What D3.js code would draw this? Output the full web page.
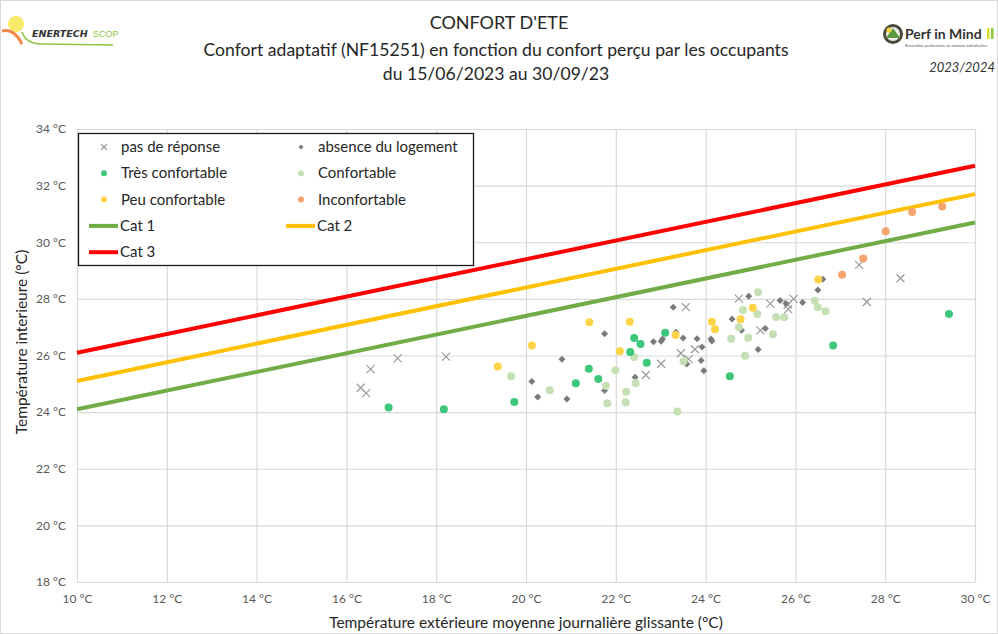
<!DOCTYPE html>
<html>
<head>
<meta charset="utf-8">
<script src="https://cdnjs.cloudflare.com/ajax/libs/d3/7.8.5/d3.min.js"></script>
<style>
  body { margin: 0; background: #fff; }
  svg { display: block; font-family: Lato, "Open Sans", sans-serif; }
</style>
</head>
<body>
<div id="chart"></div>
<script>
// points [Text, Tint]
var pasReponse = [[16.32,24.86],[16.44,24.67],[16.54,25.52],[17.14,25.90],[18.22,25.96],[23.56,27.71],[23.45,26.08],[23.76,26.22],[23.62,25.87],[23.01,25.71],[22.67,25.31],[24.74,28.01],[25.44,27.83],[25.83,27.80],[25.84,27.64],[25.96,28.00],[25.22,26.89],[27.42,29.20],[28.34,28.73],[27.59,27.89]];
var absence = [[20.13,25.08],[20.26,24.53],[20.80,25.87],[20.91,24.46],[21.75,26.77],[21.75,24.76],[22.43,25.23],[23.28,27.70],[23.34,26.82],[22.84,26.49],[23.01,26.50],[23.04,26.58],[23.50,26.62],[23.81,26.59],[23.92,26.30],[24.12,26.58],[24.14,26.51],[23.90,25.82],[23.58,25.70],[23.96,25.46],[24.96,28.09],[25.66,27.94],[25.79,27.84],[26.16,27.87],[26.61,28.69],[26.50,28.31],[24.59,27.29],[24.80,26.89],[25.33,26.95],[25.17,26.21]];
var tresConfortable = [[16.94,24.16],[18.17,24.10],[19.74,24.36],[21.11,25.02],[21.40,25.53],[21.61,25.17],[22.41,26.62],[22.55,26.41],[23.10,26.80],[22.32,26.12],[22.69,25.74],[26.84,26.35],[24.54,25.27],[29.42,27.47]];
var confortable = [[19.67,25.27],[20.53,24.77],[22.41,25.95],[23.51,25.80],[21.99,25.48],[21.78,24.93],[22.44,25.03],[22.23,24.72],[21.81,24.31],[22.22,24.35],[23.37,24.02],[25.17,28.23],[24.83,27.61],[25.15,27.47],[25.57,27.36],[25.75,27.35],[26.43,27.93],[26.50,27.70],[26.67,27.56],[24.74,27.00],[24.95,26.63],[24.57,26.59],[25.50,26.75],[24.88,25.99]];
var peuConfortable = [[19.37,25.61],[20.13,26.35],[21.41,27.17],[22.31,27.19],[24.14,27.19],[24.21,26.93],[23.33,26.72],[22.09,26.15],[26.51,28.68],[25.05,27.69],[24.78,27.28]];
var inconfortable = [[27.04,28.85],[28.60,31.07],[29.27,31.26],[28.01,30.39],[27.51,29.43]];

// comfort category lines (end points)
var catX = [10, 30];
var cat1 = [24.1, 30.7];
var cat2 = [25.1, 31.7];
var cat3 = [26.1, 32.7];

var xTicks = [10,12,14,16,18,20,22,24,26,28,30];
var yTicks = [18,20,22,24,26,28,30,32,34];

var W = 998, H = 634;
var svg = d3.select("#chart").append("svg").attr("width", W).attr("height", H);

svg.append("rect").attr("x",0.5).attr("y",0.5).attr("width",W-1).attr("height",H-1)
  .attr("fill","#fff").attr("stroke","#d9d9d9");

var x = d3.scaleLinear().domain([10,30]).range([77,975]);
var y = d3.scaleLinear().domain([18,34]).range([582,129]);

// titles
svg.append("text").attr("x",499).attr("y",29).attr("text-anchor","middle")
  .attr("font-size",18).attr("fill","#262626").text("CONFORT D'ETE");
svg.append("text").attr("x",496).attr("y",56).attr("text-anchor","middle")
  .attr("font-size",17.6).attr("fill","#262626").text("Confort adaptatif (NF15251) en fonction du confort perçu par les occupants");
svg.append("text").attr("x",496).attr("y",80).attr("text-anchor","middle")
  .attr("font-size",17.6).attr("fill","#262626").text("du 15/06/2023 au 30/09/23");

// Enertech logo
var lg = svg.append("g");
lg.append("circle").attr("cx",16).attr("cy",24).attr("r",8).attr("fill","#f7ea6a");
lg.append("path").attr("d","M2,31 Q14,28 22,44").attr("fill","none").attr("stroke","#f08a4b").attr("stroke-width",3);
lg.append("path").attr("d","M22,32 Q26,44 42,44 L113,45").attr("fill","none").attr("stroke","#8dc63f").attr("stroke-width",1.5);
lg.append("text").attr("x",32).attr("y",37).attr("font-size",9.5).attr("font-weight","bold")
  .attr("font-style","italic").attr("fill","#333").attr("font-family","DejaVu Sans").text("ENERTECH");
lg.append("text").attr("x",93).attr("y",37).attr("font-size",9)
  .attr("fill","#8dc63f").attr("font-family","Liberation Sans").text("SCOP");

// Perf in Mind logo
var pg = svg.append("g");
pg.append("circle").attr("cx",893).attr("cy",34).attr("r",10).attr("fill","#4a4a3a");
pg.append("circle").attr("cx",893).attr("cy",34).attr("r",7).attr("fill","#eee");
pg.append("path").attr("d","M886,38 L893,28 L900,38 Z").attr("fill","#5a9a3a");
pg.append("circle").attr("cx",889).attr("cy",30).attr("r",2.5).attr("fill","#f5d33a");
pg.append("text").attr("x",905).attr("y",39).attr("font-size",14).attr("font-weight","bold")
  .attr("fill","#333").attr("font-family","Lato").text("Perf in Mind");
pg.append("rect").attr("x",987).attr("y",28).attr("width",2.5).attr("height",11).attr("fill","#d7df23");
pg.append("rect").attr("x",991).attr("y",28).attr("width",2.5).attr("height",11).attr("fill","#8dc63f");
pg.append("text").attr("x",905).attr("y",47).attr("font-size",3.8).attr("fill","#555")
  .text("Rénovation performante de maisons individuelles");
svg.append("text").attr("x",995).attr("y",72).attr("text-anchor","end").attr("font-size",13)
  .attr("font-style","italic").attr("fill","#333").text("2023/2024");

// grid + axes
var gy = svg.append("g").attr("transform","translate(77,0)")
  .call(d3.axisLeft(y).tickValues(yTicks).tickSize(-(975-77)).tickPadding(11)
    .tickFormat(function(d){ return d + " °C"; }));
gy.select(".domain").remove();
gy.selectAll("line").attr("stroke","#d9d9d9").attr("stroke-width",1.2);
gy.selectAll("text").attr("font-size",12).attr("fill","#595959").attr("font-family","Lato");

var gx = svg.append("g").attr("transform","translate(0,582)")
  .call(d3.axisBottom(x).tickValues(xTicks).tickSize(-(582-129)).tickPadding(12)
    .tickFormat(function(d){ return d + " °C"; }));
gx.select(".domain").remove();
gx.selectAll("line").attr("stroke","#d9d9d9").attr("stroke-width",1.2);
gx.selectAll("text").attr("font-size",12).attr("fill","#595959").attr("font-family","Lato");

svg.append("text").attr("x",526).attr("y",628).attr("text-anchor","middle")
  .attr("font-size",15.5).attr("fill","#262626").text("Température extérieure moyenne journalière glissante (°C)");
svg.append("text").attr("transform","translate(27,342) rotate(-90)").attr("text-anchor","middle")
  .attr("font-size",15.5).attr("fill","#262626").text("Température interieure (°C)");

// category lines
var line = d3.line().x(function(d){ return x(d[0]); }).y(function(d){ return y(d[1]); });
function catLine(vals, color) {
  svg.append("path").datum(catX.map(function(t,i){ return [t, vals[i]]; }))
    .attr("d", line).attr("fill","none").attr("stroke",color).attr("stroke-width",4);
}
catLine(cat1, "#70ad47");
catLine(cat2, "#ffc000");
catLine(cat3, "#ff0000");

// markers
function crossPath(s){ return "M"+(-s)+","+(-s)+"L"+s+","+s+"M"+(-s)+","+s+"L"+s+","+(-s); }
function diamondPath(s){ return "M0,"+(-s)+"L"+s+",0L0,"+s+"L"+(-s)+",0Z"; }

function dots(data, color) {
  svg.append("g").selectAll("circle").data(data).enter().append("circle")
    .attr("cx", function(d){ return x(d[0]); })
    .attr("cy", function(d){ return y(d[1]); })
    .attr("r", 4).attr("fill", color);
}
svg.append("g").selectAll("path").data(pasReponse).enter().append("path")
  .attr("transform", function(d){ return "translate(" + x(d[0]) + "," + y(d[1]) + ")"; })
  .attr("d", crossPath(4)).attr("stroke","#9a9a9a").attr("stroke-width",1.2).attr("fill","none");
svg.append("g").selectAll("path").data(absence).enter().append("path")
  .attr("transform", function(d){ return "translate(" + x(d[0]) + "," + y(d[1]) + ")"; })
  .attr("d", diamondPath(3.5)).attr("fill","#7a7a7a");
dots(confortable, "#c5e0b4");
dots(tresConfortable, "#3cc77a");
dots(peuConfortable, "#ffd347");
dots(inconfortable, "#f4a46e");

// legend
var leg = svg.append("g");
leg.append("rect").attr("x",78.5).attr("y",133.5).attr("width",395).attr("height",132)
  .attr("fill","#fff").attr("stroke","#1a1a1a").attr("stroke-width",1.3);
var items = [
  {label:"pas de réponse", type:"cross", color:"#9a9a9a", col:0, row:0},
  {label:"absence du logement", type:"diamond", color:"#7a7a7a", col:1, row:0},
  {label:"Très confortable", type:"dot", color:"#3cc77a", col:0, row:1},
  {label:"Confortable", type:"dot", color:"#c5e0b4", col:1, row:1},
  {label:"Peu confortable", type:"dot", color:"#ffd347", col:0, row:2},
  {label:"Inconfortable", type:"dot", color:"#f4a46e", col:1, row:2},
  {label:"Cat 1", type:"line", color:"#70ad47", col:0, row:3},
  {label:"Cat 2", type:"line", color:"#ffc000", col:1, row:3},
  {label:"Cat 3", type:"line", color:"#ff0000", col:0, row:4}
];
items.forEach(function(it){
  var cx = 104 + it.col * 197, cy = 147 + it.row * 26.3;
  if (it.type === "dot") leg.append("circle").attr("cx",cx).attr("cy",cy).attr("r",3).attr("fill",it.color);
  if (it.type === "cross") leg.append("path").attr("transform","translate("+cx+","+cy+")")
    .attr("d",crossPath(3)).attr("stroke",it.color).attr("stroke-width",1.1);
  if (it.type === "diamond") leg.append("path").attr("transform","translate("+cx+","+cy+")")
    .attr("d",diamondPath(2.5)).attr("fill",it.color);
  if (it.type === "line") leg.append("line").attr("x1",cx-15).attr("x2",cx+14).attr("y1",cy).attr("y2",cy)
    .attr("stroke",it.color).attr("stroke-width",4);
  leg.append("text").attr("x", it.type === "line" ? cx + 16 : cx + 17).attr("y", cy + 5)
    .attr("font-size",15).attr("fill","#262626").text(it.label);
});
</script>
</body>
</html>
